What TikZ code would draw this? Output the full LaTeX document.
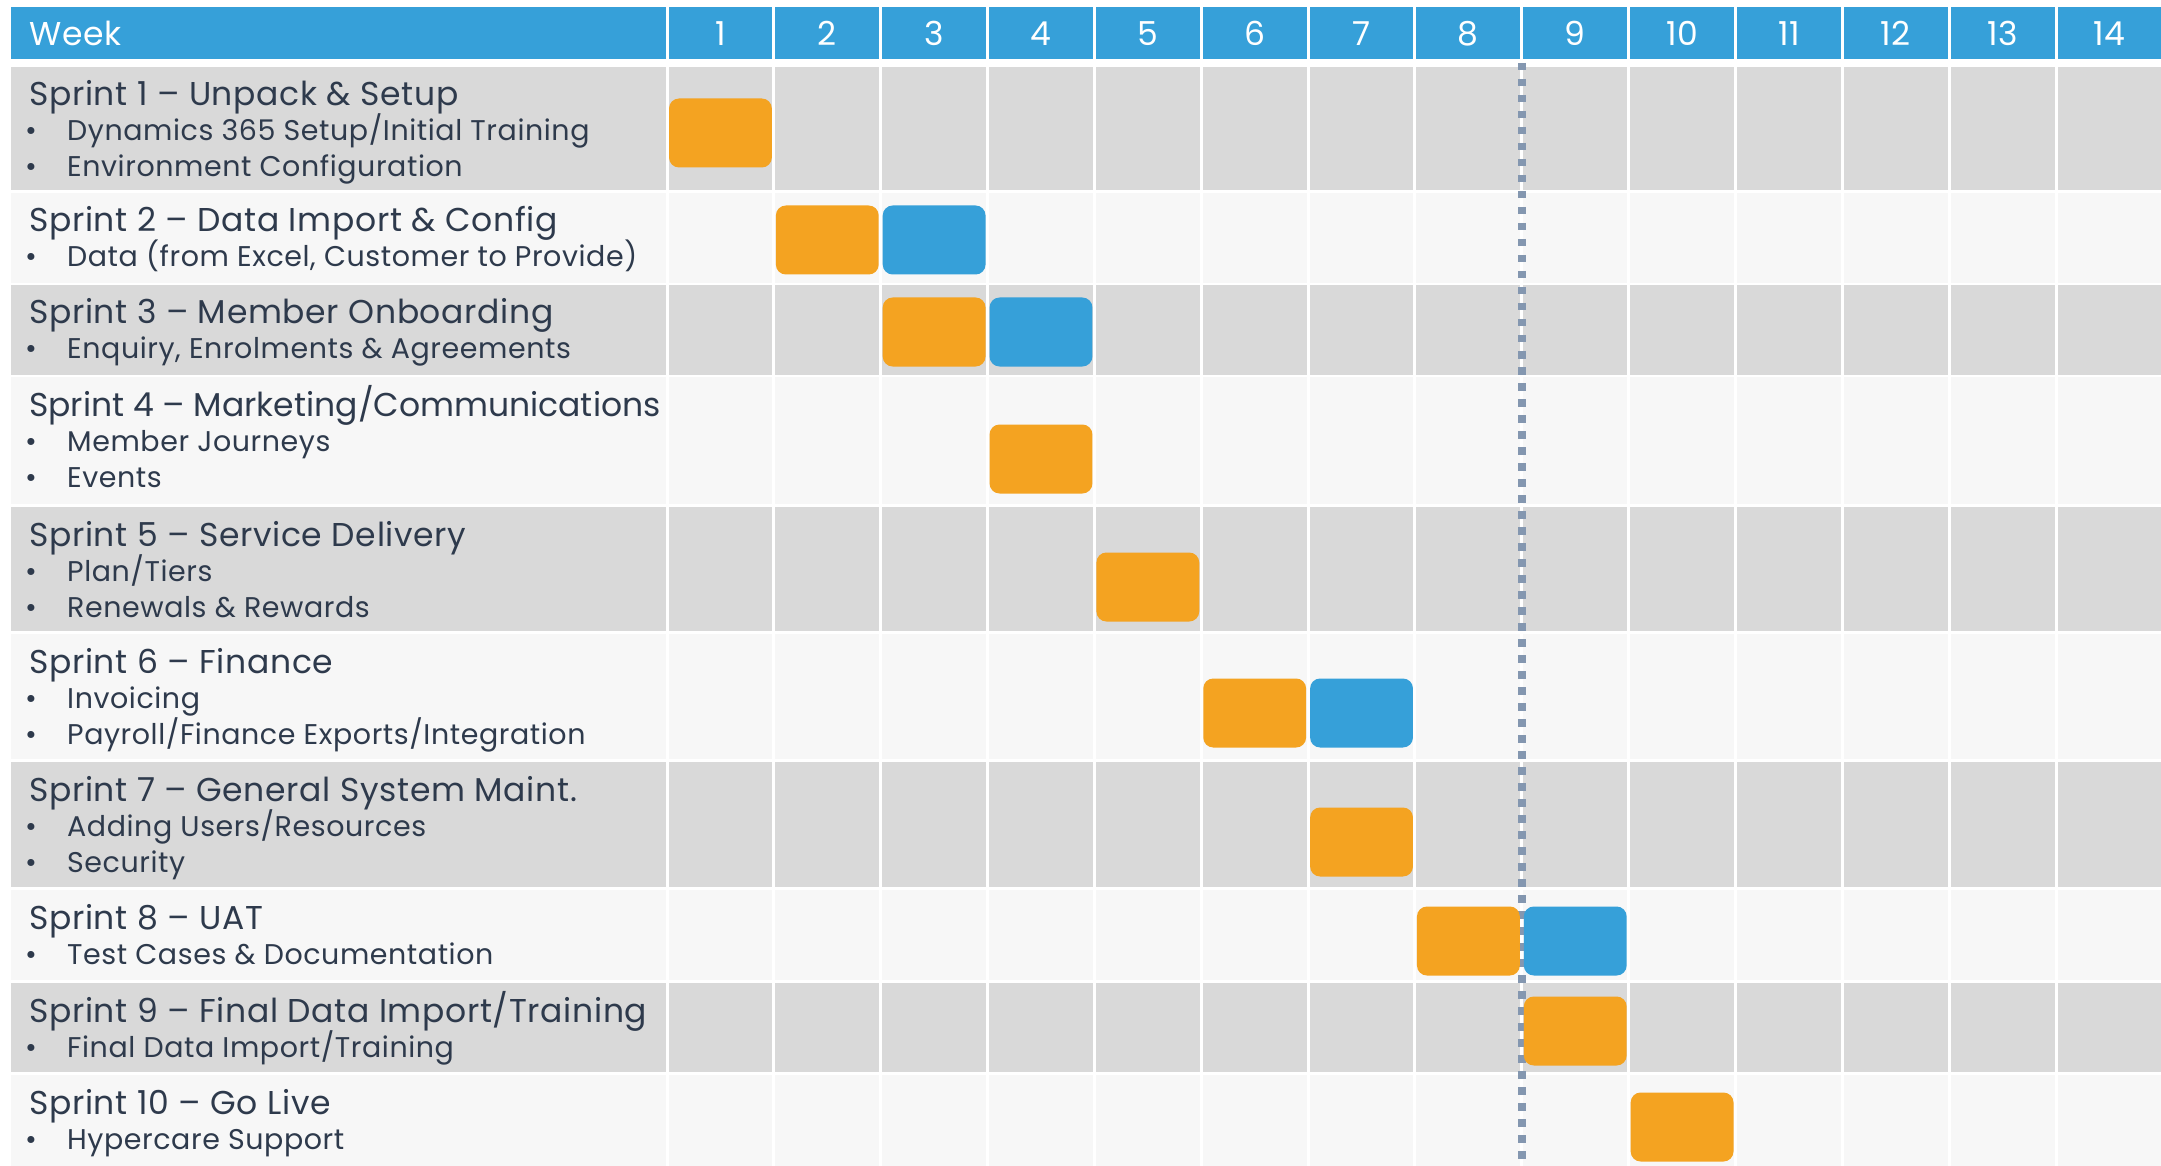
\documentclass[tikz,border=0pt]{standalone}
\usepackage{fontspec}
\setmainfont{Poppins}[LetterSpace=2]

\definecolor{headblue}{RGB}{54,160,217}
\definecolor{barorange}{RGB}{244,163,33}
\definecolor{rowgray}{RGB}{217,217,217}
\definecolor{rowlight}{RGB}{247,247,247}
\definecolor{ink}{RGB}{46,58,76}
\definecolor{nowline}{RGB}{132,151,176}

\newcommand{\titlesize}{\fontsize{33}{36}\selectfont}
\newcommand{\itemsize}{\fontsize{28.5}{36}\selectfont}
\newcommand{\bulletmark}{\makebox[42pt][l]{•}}

\tikzset{
  headtext/.style={inner sep=0pt,text=white,font=\titlesize},
  sprinttitle/.style={anchor=base west,inner sep=0pt,text=ink,font=\titlesize},
  sprintitem/.style={anchor=base west,inner sep=0pt,text=ink,font=\itemsize},
  taskbar/.style={rounded corners=10pt}
}

\begin{document}
\begin{tikzpicture}[x=1pt,y=-1pt]
\useasboundingbox (0,0) rectangle (2161,1166);

% Header bar
\fill[headblue] (11,7) rectangle (2161,59);
\node[headtext,anchor=base west] (week) at (29,46) {Week};
\foreach \w in {1,...,14}
  \node[headtext,anchor=base] (wk\w) at ({667+(\w-0.5)*106.85},46) {\w};

% Row bands, grey and off-white in turn
\foreach \top/\bot/\col in {67/190/rowgray,193/283/rowlight,285/375/rowgray,
    377/504/rowlight,507/631/rowgray,634/759/rowlight,762/887/rowgray,
    890/980/rowlight,983/1072/rowgray,1075/1166/rowlight}
  \fill[\col] (11,\top) rectangle (2161,\bot);

% Column separators
\foreach \k in {0,...,13}
  \draw[white,line width=3pt] ({667+\k*106.85},7) -- ({667+\k*106.85},1166);

% Current week marker
\draw[nowline,line width=7.5pt,dash pattern=on 7.5pt off 8.5pt] (1522,63) -- (1522,1163);

% Task bars: week/centre/colour
\foreach \c/\y/\col in {1/133/barorange,
    2/240/barorange,3/240/headblue,
    3/332/barorange,4/332/headblue,
    4/459/barorange,
    5/587/barorange,
    6/713/barorange,7/713/headblue,
    7/842/barorange,
    8/941/barorange,9/941/headblue,
    9/1031/barorange,
    10/1127/barorange}
  \fill[\col,taskbar] ({667+(\c-1)*106.85+2},{\y-34.5}) rectangle ({667+\c*106.85-2},{\y+34.5});

% Sprint labels
\node[sprinttitle] (s1) at (29,106) {Sprint 1 – Unpack \& Setup};
\node[sprintitem] (s1a) at (25,141) {\bulletmark Dynamics 365 Setup/Initial Training};
\node[sprintitem] (s1b) at (25,177) {\bulletmark Environment Configuration};

\node[sprinttitle] (s2) at (29,232) {Sprint 2 – Data Import \& Config};
\node[sprintitem] (s2a) at (25,267) {\bulletmark Data (from Excel, Customer to Provide)};

\node[sprinttitle] (s3) at (29,324) {Sprint 3 – Member Onboarding};
\node[sprintitem] (s3a) at (25,359) {\bulletmark Enquiry, Enrolments \& Agreements};

% long title, set a little tighter so it stays in its cell
\node[sprinttitle] (s4) at (29,416) {\addfontfeature{LetterSpace=0}Sprint 4 – Marketing/Communications};
\node[sprintitem] (s4a) at (25,451) {\bulletmark Member Journeys};
\node[sprintitem] (s4b) at (25,487) {\bulletmark Events};

\node[sprinttitle] (s5) at (29,546) {Sprint 5 – Service Delivery};
\node[sprintitem] (s5a) at (25,581) {\bulletmark Plan/Tiers};
\node[sprintitem] (s5b) at (25,617) {\bulletmark Renewals \& Rewards};

\node[sprinttitle] (s6) at (29,673) {Sprint 6 – Finance};
\node[sprintitem] (s6a) at (25,708) {\bulletmark Invoicing};
\node[sprintitem] (s6b) at (25,744) {\bulletmark Payroll/Finance Exports/Integration};

\node[sprinttitle] (s7) at (29,801) {Sprint 7 – General System Maint.};
\node[sprintitem] (s7a) at (25,836) {\bulletmark Adding Users/Resources};
\node[sprintitem] (s7b) at (25,872) {\bulletmark Security};

\node[sprinttitle] (s8) at (29,929) {Sprint 8 – UAT};
\node[sprintitem] (s8a) at (25,964) {\bulletmark Test Cases \& Documentation};

\node[sprinttitle] (s9) at (29,1022) {Sprint 9 – Final Data Import/Training};
\node[sprintitem] (s9a) at (25,1057) {\bulletmark Final Data Import/Training};

\node[sprinttitle] (s10) at (29,1114) {Sprint 10 – Go Live};
\node[sprintitem] (s10a) at (25,1149) {\bulletmark Hypercare Support};

\end{tikzpicture}
\end{document}
